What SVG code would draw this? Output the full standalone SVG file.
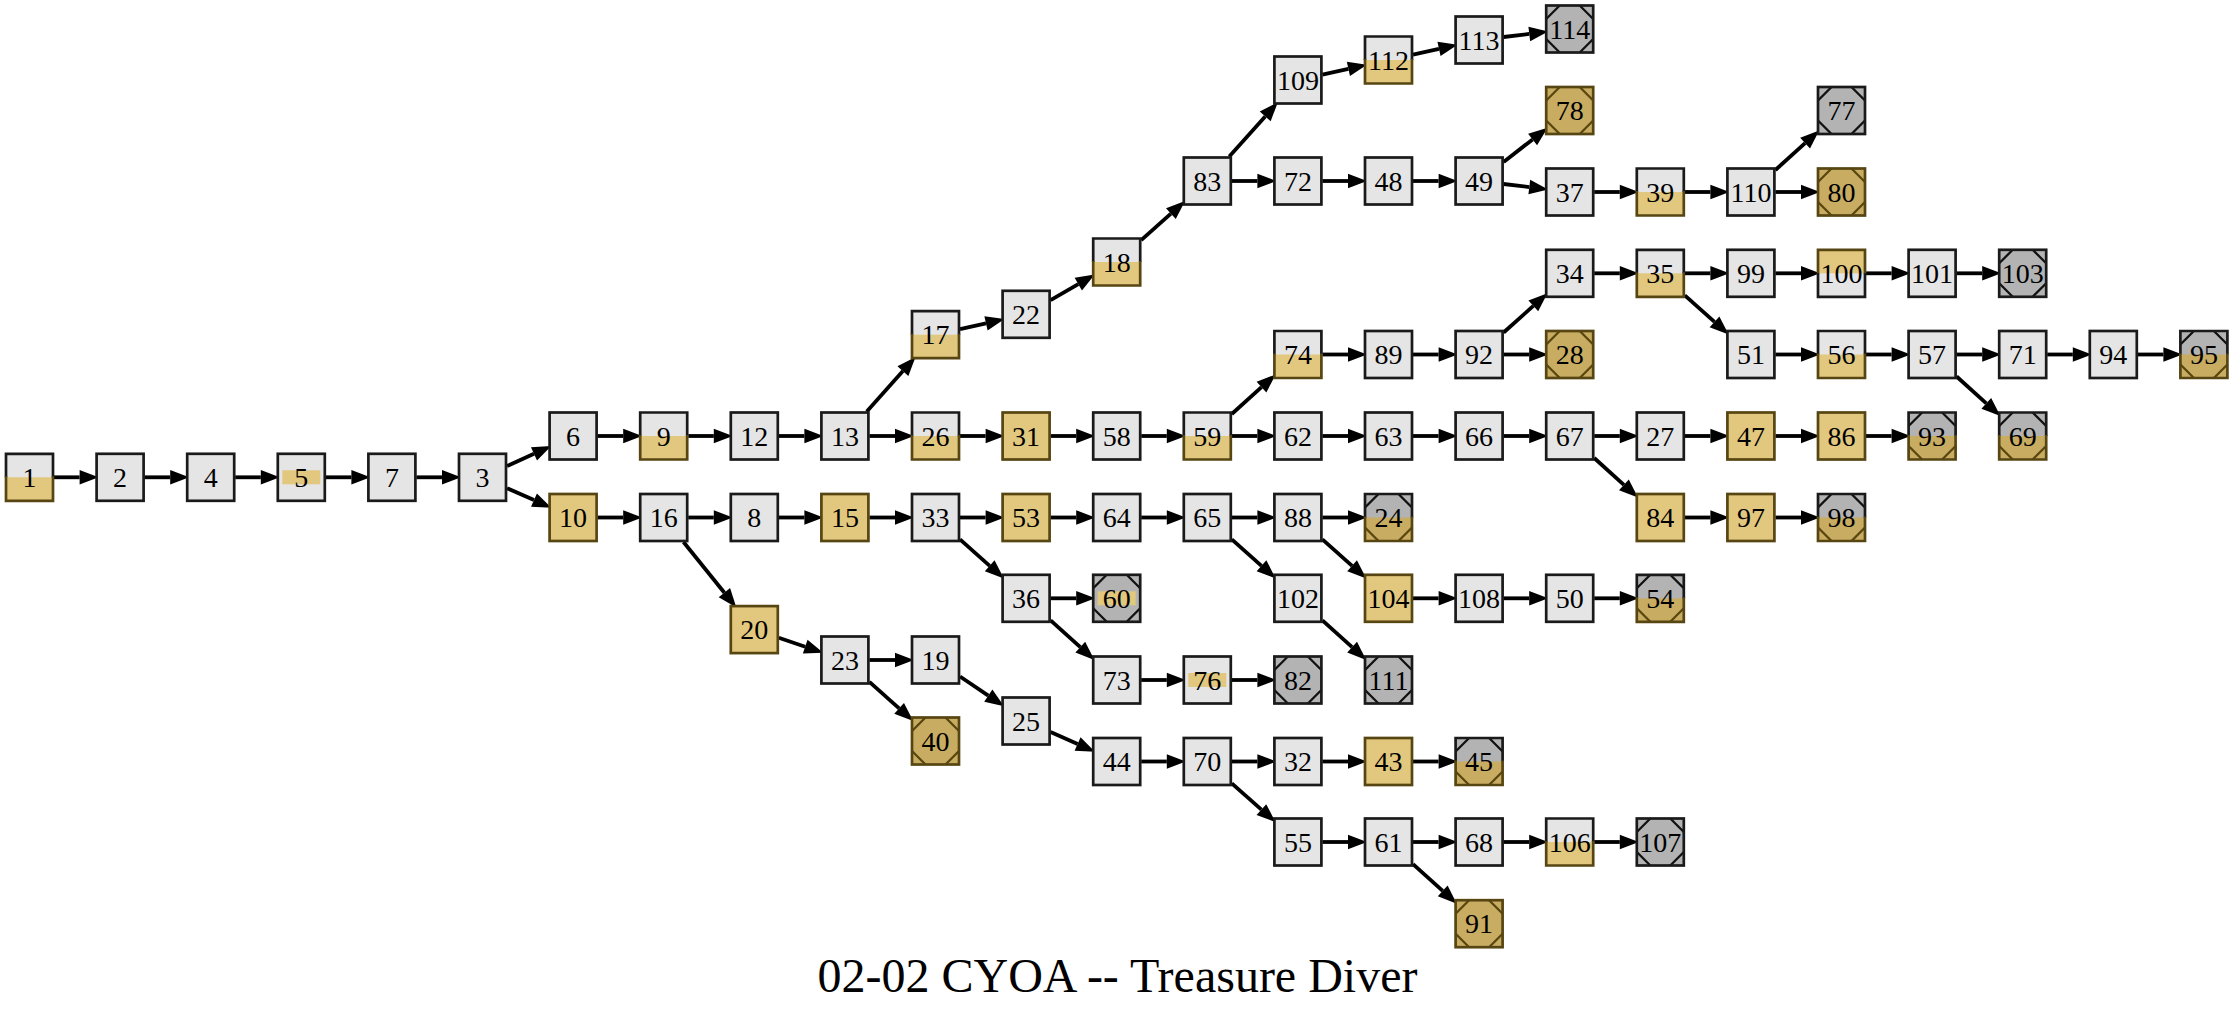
<svg xmlns="http://www.w3.org/2000/svg" width="2235" height="1012" viewBox="0 0 2235 1012">
<style>
.e{fill:none;stroke:#000;stroke-width:3.8;marker-end:url(#ah)}
.fg{fill:#e5e5e5}.fy{fill:#e2c87e}.ft{fill:#c8ac62}.fk{fill:#b3b3b3}
.sd{fill:none;stroke:#1a1a1a;stroke-width:2.7}.sb{fill:none;stroke:#574512;stroke-width:2.7}
.dd{fill:none;stroke:#111;stroke-width:2.3}.db{fill:none;stroke:#5a4710;stroke-width:2.3}
#nodes text{font-family:"Liberation Serif","Times New Roman",serif;font-size:28px;text-anchor:middle;fill:#000}
.title{font-family:"Liberation Serif","Times New Roman",serif;font-size:48px;text-anchor:middle;fill:#000}
</style>
<defs>
<marker id="ah" markerUnits="userSpaceOnUse" markerWidth="20" markerHeight="16" viewBox="0 -8 20 16" refX="0" refY="0" orient="auto" overflow="visible"><path d="M0,-7.3L19,0L0,7.3z" fill="#000"/></marker>
<g id="G"><rect class="fg" x="-23.5" y="-23.5" width="47" height="47"/><rect class="sd" x="-23.5" y="-23.5" width="47" height="47"/></g>
<g id="HB"><rect class="fg" x="-23.5" y="-23.5" width="47" height="47"/><rect class="fy" x="-23.5" y="0" width="47" height="23.5"/><path class="sd" d="M-23.5,0V-23.5H23.5V0"/><path class="sb" d="M-23.5,-1V23.5H23.5V-1"/></g>
<g id="HT"><rect class="fg" x="-23.5" y="-23.5" width="47" height="47"/><rect class="fy" x="-23.5" y="-23.5" width="47" height="23.5"/><path class="sb" d="M-23.5,1V-23.5H23.5V1"/><path class="sd" d="M-23.5,0V23.5H23.5V0"/></g>
<g id="S"><rect class="fg" x="-23.5" y="-23.5" width="47" height="47"/><rect class="fy" x="-19" y="-7" width="38" height="14"/><rect class="sd" x="-23.5" y="-23.5" width="47" height="47"/></g>
<g id="Y"><rect class="fy" x="-23.5" y="-23.5" width="47" height="47"/><rect class="sb" x="-23.5" y="-23.5" width="47" height="47"/></g>
<g id="TK"><rect class="fk" x="-23.5" y="-23.5" width="47" height="47"/><path class="dd" d="M-23.5,-10L-10,-23.5M10,-23.5L23.5,-10M23.5,10L10,23.5M-10,23.5L-23.5,10"/><rect class="sd" x="-23.5" y="-23.5" width="47" height="47"/></g>
<g id="TY"><rect class="ft" x="-23.5" y="-23.5" width="47" height="47"/><path class="db" d="M-23.5,-10L-10,-23.5M10,-23.5L23.5,-10M23.5,10L10,23.5M-10,23.5L-23.5,10"/><rect class="sb" x="-23.5" y="-23.5" width="47" height="47"/></g>
<g id="TH"><rect class="fk" x="-23.5" y="-23.5" width="47" height="47"/><rect class="ft" x="-23.5" y="0" width="47" height="23.5"/><path class="dd" d="M-23.5,-10L-10,-23.5M10,-23.5L23.5,-10"/><path class="db" d="M23.5,10L10,23.5M-10,23.5L-23.5,10"/><path class="sd" d="M-23.5,0V-23.5H23.5V0"/><path class="sb" d="M-23.5,-1V23.5H23.5V-1"/></g>
<g id="TS"><rect class="fk" x="-23.5" y="-23.5" width="47" height="47"/><rect class="fy" x="-19" y="-7" width="38" height="14"/><path class="dd" d="M-23.5,-10L-10,-23.5M10,-23.5L23.5,-10M23.5,10L10,23.5M-10,23.5L-23.5,10"/><rect class="sd" x="-23.5" y="-23.5" width="47" height="47"/></g>
</defs>
<rect x="0" y="0" width="2235" height="1012" fill="#fff"/>
<g id="edges">
<path class="e" d="M54 477.3H79.6"/>
<path class="e" d="M144.6 477.3H170.2"/>
<path class="e" d="M235.2 477.3H260.8"/>
<path class="e" d="M325.8 477.3H351.4"/>
<path class="e" d="M416.4 477.3H442"/>
<path class="e" d="M507 466.1L534 453.8"/>
<path class="e" d="M507 488.2L534 500.1"/>
<path class="e" d="M597.6 436H623.2"/>
<path class="e" d="M688.2 436H713.8"/>
<path class="e" d="M778.8 436H804.4"/>
<path class="e" d="M866.8 411.5L902.9 371.1"/>
<path class="e" d="M869.4 436H895"/>
<path class="e" d="M960 329.2L986 323.3"/>
<path class="e" d="M1050.6 300.2L1078.3 284.1"/>
<path class="e" d="M1141.2 240.1L1170.9 213.6"/>
<path class="e" d="M1229.3 156.5L1265.2 116.4"/>
<path class="e" d="M1231.8 181H1257.4"/>
<path class="e" d="M1322.4 74.6L1348.4 68.9"/>
<path class="e" d="M1413 54.6L1439 48.9"/>
<path class="e" d="M1503.6 37L1529.3 33.9"/>
<path class="e" d="M1322.4 181H1348"/>
<path class="e" d="M1413 181H1438.6"/>
<path class="e" d="M1503.6 161.9L1532.6 139.4"/>
<path class="e" d="M1503.6 184L1529.3 187.1"/>
<path class="e" d="M1594.2 192H1619.8"/>
<path class="e" d="M1684.8 192H1710.4"/>
<path class="e" d="M1775.4 170L1805.1 143.2"/>
<path class="e" d="M1775.4 192H1801"/>
<path class="e" d="M960 436H985.6"/>
<path class="e" d="M1050.6 436H1076.2"/>
<path class="e" d="M1141.2 436H1166.8"/>
<path class="e" d="M1231.8 414L1261.5 387.2"/>
<path class="e" d="M1231.8 436H1257.4"/>
<path class="e" d="M1322.4 354.5H1348"/>
<path class="e" d="M1413 354.5H1438.6"/>
<path class="e" d="M1503.6 332.5L1533.3 305.9"/>
<path class="e" d="M1503.6 354.5H1529.2"/>
<path class="e" d="M1594.2 273.3H1619.8"/>
<path class="e" d="M1684.8 273.3H1710.4"/>
<path class="e" d="M1684.8 295.3L1714.5 321.9"/>
<path class="e" d="M1775.4 273.3H1801"/>
<path class="e" d="M1866 273.3H1891.6"/>
<path class="e" d="M1956.6 273.3H1982.2"/>
<path class="e" d="M1775.4 354.5H1801"/>
<path class="e" d="M1866 354.5H1891.6"/>
<path class="e" d="M1956.6 354.5H1982.2"/>
<path class="e" d="M1956.6 376.5L1986.3 403.3"/>
<path class="e" d="M2047.2 354.5H2072.8"/>
<path class="e" d="M2137.8 354.5H2163.4"/>
<path class="e" d="M1322.4 436H1348"/>
<path class="e" d="M1413 436H1438.6"/>
<path class="e" d="M1503.6 436H1529.2"/>
<path class="e" d="M1594.2 436H1619.8"/>
<path class="e" d="M1594.2 458L1623.9 484.8"/>
<path class="e" d="M1684.8 436H1710.4"/>
<path class="e" d="M1775.4 436H1801"/>
<path class="e" d="M1866 436H1891.6"/>
<path class="e" d="M1684.8 517.5H1710.4"/>
<path class="e" d="M1775.4 517.5H1801"/>
<path class="e" d="M597.6 517.5H623.2"/>
<path class="e" d="M688.2 517.5H713.8"/>
<path class="e" d="M683.5 542L724.4 592.7"/>
<path class="e" d="M778.8 517.5H804.4"/>
<path class="e" d="M869.4 517.5H895"/>
<path class="e" d="M960 517.5H985.6"/>
<path class="e" d="M960 539.4L989.7 565.8"/>
<path class="e" d="M1050.6 517.5H1076.2"/>
<path class="e" d="M1141.2 517.5H1166.8"/>
<path class="e" d="M1231.8 517.5H1257.4"/>
<path class="e" d="M1231.8 539.4L1261.5 565.8"/>
<path class="e" d="M1322.4 517.5H1348"/>
<path class="e" d="M1322.4 539.4L1352.1 565.8"/>
<path class="e" d="M1413 598.3H1438.6"/>
<path class="e" d="M1503.6 598.3H1529.2"/>
<path class="e" d="M1594.2 598.3H1619.8"/>
<path class="e" d="M1322.4 620.4L1352.1 647.2"/>
<path class="e" d="M1050.6 598.3H1076.2"/>
<path class="e" d="M1050.6 620.4L1080.3 647.2"/>
<path class="e" d="M1141.2 680H1166.8"/>
<path class="e" d="M1231.8 680H1257.4"/>
<path class="e" d="M778.8 637.8L805.2 646.7"/>
<path class="e" d="M869.4 660H895"/>
<path class="e" d="M869.4 681.9L899.1 708.4"/>
<path class="e" d="M960 676.5L988.3 695.6"/>
<path class="e" d="M1050.6 732L1077.6 744"/>
<path class="e" d="M1141.2 761.5H1166.8"/>
<path class="e" d="M1231.8 761.5H1257.4"/>
<path class="e" d="M1231.8 783.3L1261.4 809.6"/>
<path class="e" d="M1322.4 761.5H1348"/>
<path class="e" d="M1413 761.5H1438.6"/>
<path class="e" d="M1322.4 842H1348"/>
<path class="e" d="M1413 842H1438.6"/>
<path class="e" d="M1413 864.1L1442.7 890.9"/>
<path class="e" d="M1503.6 842H1529.2"/>
<path class="e" d="M1594.2 842H1619.8"/>
</g>
<g id="nodes" font-family="Liberation Serif, Times New Roman, serif" font-size="28" text-anchor="middle">
<g id="n1" transform="translate(29.5 477.3)"><use href="#HB"/><text y="9.5">1</text></g>
<g id="n2" transform="translate(120.1 477.3)"><use href="#G"/><text y="9.5">2</text></g>
<g id="n4" transform="translate(210.7 477.3)"><use href="#G"/><text y="9.5">4</text></g>
<g id="n5" transform="translate(301.3 477.3)"><use href="#S"/><text y="9.5">5</text></g>
<g id="n7" transform="translate(391.9 477.3)"><use href="#G"/><text y="9.5">7</text></g>
<g id="n3" transform="translate(482.5 477.3)"><use href="#G"/><text y="9.5">3</text></g>
<g id="n6" transform="translate(573.1 436)"><use href="#G"/><text y="9.5">6</text></g>
<g id="n10" transform="translate(573.1 517.5)"><use href="#Y"/><text y="9.5">10</text></g>
<g id="n9" transform="translate(663.7 436)"><use href="#HB"/><text y="9.5">9</text></g>
<g id="n16" transform="translate(663.7 517.5)"><use href="#G"/><text y="9.5">16</text></g>
<g id="n12" transform="translate(754.3 436)"><use href="#G"/><text y="9.5">12</text></g>
<g id="n8" transform="translate(754.3 517.5)"><use href="#G"/><text y="9.5">8</text></g>
<g id="n20" transform="translate(754.3 629.6)"><use href="#Y"/><text y="9.5">20</text></g>
<g id="n13" transform="translate(844.9 436)"><use href="#G"/><text y="9.5">13</text></g>
<g id="n15" transform="translate(844.9 517.5)"><use href="#Y"/><text y="9.5">15</text></g>
<g id="n23" transform="translate(844.9 660)"><use href="#G"/><text y="9.5">23</text></g>
<g id="n17" transform="translate(935.5 334.7)"><use href="#HB"/><text y="9.5">17</text></g>
<g id="n26" transform="translate(935.5 436)"><use href="#HB"/><text y="9.5">26</text></g>
<g id="n33" transform="translate(935.5 517.5)"><use href="#G"/><text y="9.5">33</text></g>
<g id="n19" transform="translate(935.5 660)"><use href="#G"/><text y="9.5">19</text></g>
<g id="n40" transform="translate(935.5 741)"><use href="#TY"/><text y="9.5">40</text></g>
<g id="n22" transform="translate(1026.1 314.3)"><use href="#G"/><text y="9.5">22</text></g>
<g id="n31" transform="translate(1026.1 436)"><use href="#Y"/><text y="9.5">31</text></g>
<g id="n53" transform="translate(1026.1 517.5)"><use href="#Y"/><text y="9.5">53</text></g>
<g id="n36" transform="translate(1026.1 598.3)"><use href="#G"/><text y="9.5">36</text></g>
<g id="n25" transform="translate(1026.1 721)"><use href="#G"/><text y="9.5">25</text></g>
<g id="n18" transform="translate(1116.7 262)"><use href="#HB"/><text y="9.5">18</text></g>
<g id="n58" transform="translate(1116.7 436)"><use href="#G"/><text y="9.5">58</text></g>
<g id="n64" transform="translate(1116.7 517.5)"><use href="#G"/><text y="9.5">64</text></g>
<g id="n60" transform="translate(1116.7 598.3)"><use href="#TS"/><text y="9.5">60</text></g>
<g id="n73" transform="translate(1116.7 680)"><use href="#G"/><text y="9.5">73</text></g>
<g id="n44" transform="translate(1116.7 761.5)"><use href="#G"/><text y="9.5">44</text></g>
<g id="n83" transform="translate(1207.3 181)"><use href="#G"/><text y="9.5">83</text></g>
<g id="n59" transform="translate(1207.3 436)"><use href="#HB"/><text y="9.5">59</text></g>
<g id="n65" transform="translate(1207.3 517.5)"><use href="#G"/><text y="9.5">65</text></g>
<g id="n76" transform="translate(1207.3 680)"><use href="#S"/><text y="9.5">76</text></g>
<g id="n70" transform="translate(1207.3 761.5)"><use href="#G"/><text y="9.5">70</text></g>
<g id="n109" transform="translate(1297.9 80)"><use href="#G"/><text y="9.5">109</text></g>
<g id="n72" transform="translate(1297.9 181)"><use href="#G"/><text y="9.5">72</text></g>
<g id="n74" transform="translate(1297.9 354.5)"><use href="#HB"/><text y="9.5">74</text></g>
<g id="n62" transform="translate(1297.9 436)"><use href="#G"/><text y="9.5">62</text></g>
<g id="n88" transform="translate(1297.9 517.5)"><use href="#G"/><text y="9.5">88</text></g>
<g id="n102" transform="translate(1297.9 598.3)"><use href="#G"/><text y="9.5">102</text></g>
<g id="n82" transform="translate(1297.9 680)"><use href="#TK"/><text y="9.5">82</text></g>
<g id="n32" transform="translate(1297.9 761.5)"><use href="#G"/><text y="9.5">32</text></g>
<g id="n55" transform="translate(1297.9 842)"><use href="#G"/><text y="9.5">55</text></g>
<g id="n112" transform="translate(1388.5 60)"><use href="#HB"/><text y="9.5">112</text></g>
<g id="n48" transform="translate(1388.5 181)"><use href="#G"/><text y="9.5">48</text></g>
<g id="n89" transform="translate(1388.5 354.5)"><use href="#G"/><text y="9.5">89</text></g>
<g id="n63" transform="translate(1388.5 436)"><use href="#G"/><text y="9.5">63</text></g>
<g id="n24" transform="translate(1388.5 517.5)"><use href="#TH"/><text y="9.5">24</text></g>
<g id="n104" transform="translate(1388.5 598.3)"><use href="#Y"/><text y="9.5">104</text></g>
<g id="n111" transform="translate(1388.5 680)"><use href="#TK"/><text y="9.5">111</text></g>
<g id="n43" transform="translate(1388.5 761.5)"><use href="#Y"/><text y="9.5">43</text></g>
<g id="n61" transform="translate(1388.5 842)"><use href="#G"/><text y="9.5">61</text></g>
<g id="n113" transform="translate(1479.1 40)"><use href="#G"/><text y="9.5">113</text></g>
<g id="n49" transform="translate(1479.1 181)"><use href="#G"/><text y="9.5">49</text></g>
<g id="n92" transform="translate(1479.1 354.5)"><use href="#G"/><text y="9.5">92</text></g>
<g id="n66" transform="translate(1479.1 436)"><use href="#G"/><text y="9.5">66</text></g>
<g id="n108" transform="translate(1479.1 598.3)"><use href="#G"/><text y="9.5">108</text></g>
<g id="n45" transform="translate(1479.1 761.5)"><use href="#TH"/><text y="9.5">45</text></g>
<g id="n68" transform="translate(1479.1 842)"><use href="#G"/><text y="9.5">68</text></g>
<g id="n91" transform="translate(1479.1 923.7)"><use href="#TY"/><text y="9.5">91</text></g>
<g id="n114" transform="translate(1569.7 29)"><use href="#TK"/><text y="9.5">114</text></g>
<g id="n78" transform="translate(1569.7 110.5)"><use href="#TY"/><text y="9.5">78</text></g>
<g id="n37" transform="translate(1569.7 192)"><use href="#G"/><text y="9.5">37</text></g>
<g id="n34" transform="translate(1569.7 273.3)"><use href="#G"/><text y="9.5">34</text></g>
<g id="n28" transform="translate(1569.7 354.5)"><use href="#TY"/><text y="9.5">28</text></g>
<g id="n67" transform="translate(1569.7 436)"><use href="#G"/><text y="9.5">67</text></g>
<g id="n50" transform="translate(1569.7 598.3)"><use href="#G"/><text y="9.5">50</text></g>
<g id="n106" transform="translate(1569.7 842)"><use href="#HB"/><text y="9.5">106</text></g>
<g id="n39" transform="translate(1660.3 192)"><use href="#HB"/><text y="9.5">39</text></g>
<g id="n35" transform="translate(1660.3 273.3)"><use href="#HB"/><text y="9.5">35</text></g>
<g id="n27" transform="translate(1660.3 436)"><use href="#G"/><text y="9.5">27</text></g>
<g id="n84" transform="translate(1660.3 517.5)"><use href="#Y"/><text y="9.5">84</text></g>
<g id="n54" transform="translate(1660.3 598.3)"><use href="#TH"/><text y="9.5">54</text></g>
<g id="n107" transform="translate(1660.3 842)"><use href="#TK"/><text y="9.5">107</text></g>
<g id="n110" transform="translate(1750.9 192)"><use href="#G"/><text y="9.5">110</text></g>
<g id="n99" transform="translate(1750.9 273.3)"><use href="#G"/><text y="9.5">99</text></g>
<g id="n51" transform="translate(1750.9 354.5)"><use href="#G"/><text y="9.5">51</text></g>
<g id="n47" transform="translate(1750.9 436)"><use href="#Y"/><text y="9.5">47</text></g>
<g id="n97" transform="translate(1750.9 517.5)"><use href="#Y"/><text y="9.5">97</text></g>
<g id="n77" transform="translate(1841.5 110.5)"><use href="#TK"/><text y="9.5">77</text></g>
<g id="n80" transform="translate(1841.5 192)"><use href="#TY"/><text y="9.5">80</text></g>
<g id="n100" transform="translate(1841.5 273.3)"><use href="#HT"/><text y="9.5">100</text></g>
<g id="n56" transform="translate(1841.5 354.5)"><use href="#HB"/><text y="9.5">56</text></g>
<g id="n86" transform="translate(1841.5 436)"><use href="#Y"/><text y="9.5">86</text></g>
<g id="n98" transform="translate(1841.5 517.5)"><use href="#TH"/><text y="9.5">98</text></g>
<g id="n101" transform="translate(1932.1 273.3)"><use href="#G"/><text y="9.5">101</text></g>
<g id="n57" transform="translate(1932.1 354.5)"><use href="#G"/><text y="9.5">57</text></g>
<g id="n93" transform="translate(1932.1 436)"><use href="#TH"/><text y="9.5">93</text></g>
<g id="n103" transform="translate(2022.7 273.3)"><use href="#TK"/><text y="9.5">103</text></g>
<g id="n71" transform="translate(2022.7 354.5)"><use href="#G"/><text y="9.5">71</text></g>
<g id="n69" transform="translate(2022.7 436)"><use href="#TH"/><text y="9.5">69</text></g>
<g id="n94" transform="translate(2113.3 354.5)"><use href="#G"/><text y="9.5">94</text></g>
<g id="n95" transform="translate(2203.9 354.5)"><use href="#TH"/><text y="9.5">95</text></g>
</g>
<text class="title" x="1117.5" y="991.7">02-02 CYOA -- Treasure Diver</text>
</svg>
